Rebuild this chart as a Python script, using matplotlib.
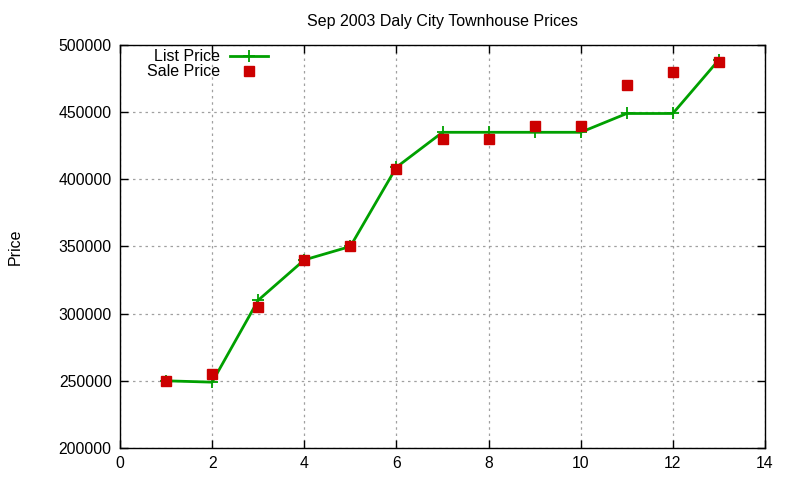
import matplotlib
matplotlib.use('Agg')
import matplotlib.pyplot as plt

plt.rcParams['font.family'] = ['Liberation Sans', 'DejaVu Sans']

house = [1, 2, 3, 4, 5, 6, 7, 8, 9, 10, 11, 12, 13]
list_price = [250000, 249000, 310000, 340000, 350000, 409000, 435000,
              435000, 435000, 435000, 449000, 449000, 489000]
sale_price = [250000, 255000, 305000, 340000, 350000, 408000, 430000,
              430000, 440000, 440000, 470000, 480000, 487000]

fig = plt.figure(figsize=(8, 4.8), dpi=100)
ax = fig.add_axes([0.15, 0.0667, 0.80625, 0.8396])

ax.plot(house, list_price, color='#00a000', lw=2, marker='+', ms=8, mew=1.3,
        label='List Price', zorder=3)
ax.plot(house, sale_price, ls='none', marker='s', ms=6.5, color='#cc0000',
        label='Sale Price', zorder=4)

ax.set_xlim(0, 14)
ax.set_ylim(200000, 500000)
ax.set_xticks(range(0, 15, 2))
ax.set_yticks(range(200000, 500001, 50000))
ax.tick_params(direction='in', top=True, right=True, length=6, width=1,
               labelsize=11.3, pad=6)
ax.grid(True, color='#a0a0a0', ls=(0, (2, 3)), lw=0.9)
for s in ax.spines.values():
    s.set_linewidth(1)

ax.set_title('Sep 2003 Daly City Townhouse Prices', fontsize=11.5, pad=14)
ax.set_ylabel('Price', fontsize=11.5, labelpad=26)

leg = ax.legend(loc='upper left', bbox_to_anchor=(0.02, 1.025), frameon=False,
                markerfirst=False, fontsize=11.5, handlelength=2.4,
                labelspacing=0.0, handletextpad=0.6)

fig.savefig('out.png', dpi=100)
